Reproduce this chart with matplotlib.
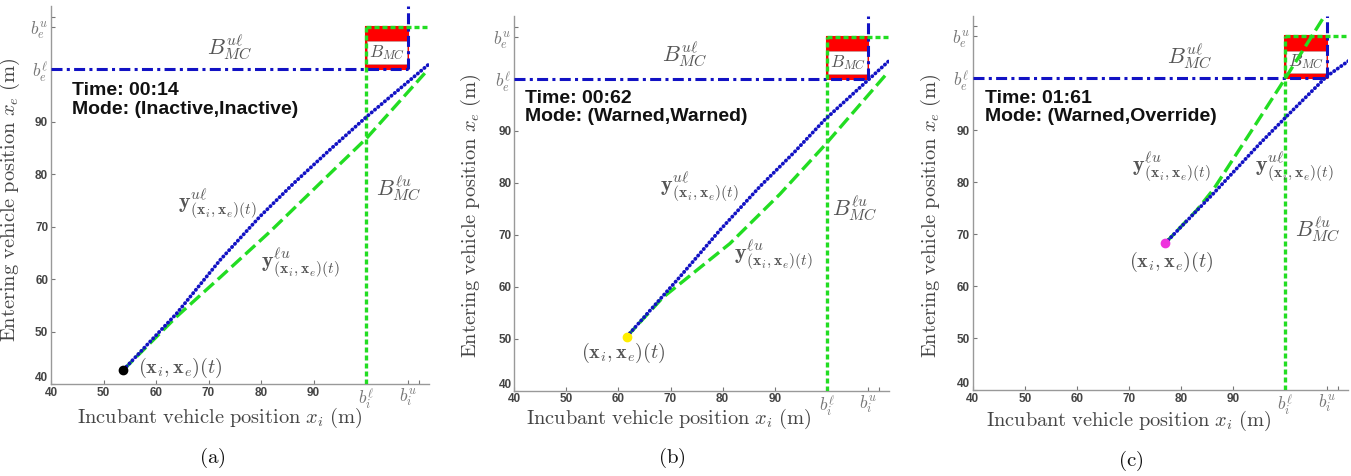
"""Three snapshots of the merge-conflict state space (incumbent vs entering vehicle)."""

import matplotlib.pyplot as plt
from matplotlib.patches import Rectangle

plt.rcParams["mathtext.fontset"] = "cm"
plt.rcParams["font.family"] = ["Liberation Sans", "DejaVu Sans"]

# bad set bounds (b^l, b^u) and axis range
B_I = (100, 108)
B_E = (100, 108)
LIM = (40, 112)

PANEL_TAGS = ["(a)", "(b)", "(c)"]
TIMES = ["00:14", "00:62", "01:61"]
MODES = ["(Inactive,Inactive)", "(Warned,Warned)", "(Warned,Override)"]

# current state (x_i, x_e)(t)
STATE_XI = [53.8, 61.6, 76.9]
STATE_XE = [42.7, 50.4, 68.2]

# predicted trajectory to the upper-left bound, y^{ul}
UL_X = [[53.8, 63.9, 72.2, 79.8, 86.2, 93.1, 100.1, 112.2],
        [61.6, 71.8, 79.5, 87.1, 93.6, 99.6, 111.8],
        [76.9, 86.2, 95.1, 100.2, 107.9, 112.4]]
UL_Y = [[42.7, 53.4, 63.6, 71.9, 78.2, 84.6, 90.9, 101.1],
        [50.4, 61.9, 70.9, 79.2, 85.7, 92.1, 103.3],
        [68.2, 77.8, 87.4, 92.6, 100.3, 103.5]]

# predicted trajectory to the lower-right bound, y^{lu}
LU_X = [[53.8, 63.9, 72.2, 81.7, 91.2, 100.1, 111.2],
        [61.6, 68.5, 81.4, 91.0, 99.6, 111.8],
        [76.9, 83.0, 86.2, 93.2, 100.2, 107.6]]
LU_Y = [[42.7, 52.8, 60.3, 69.0, 78.2, 86.8, 99.2],
        [50.4, 57.9, 68.3, 77.8, 87.2, 101.3],
        [68.2, 74.6, 78.6, 89.4, 100.3, 112.1]]

NUM_TICKS = [40, 50, 60, 70, 80, 90]

# layout (pixels, figure is 1351 x 476): left, top, width, height of each axes
FIG_W, FIG_H = 1351, 476
AX_PX = [(51, 6, 378, 378), (514.3, 16.3, 375, 374.4), (972.7, 15.6, 375.3, 374.4)]
XLABEL_PX = [(220, 418), (669, 419), (1129, 421)]
YLABEL_PX = [(10, 200), (471, 216), (931, 216)]
TAG_PX = [(212, 458), (672, 458), (1131, 461)]

# annotation anchors in data coordinates, per panel
INFO_XY = [(44.0, 94.1), (42.1, 94.45), (42.4, 94.3)]
BUL_XY = [(74.1, 104.2), (72.8, 104.6), (81.7, 104.1)]
BLU_XY = [(106.2, 77.3), (105.4, 75.1), (106.2, 70.8)]
YUL_XY = [(71.6, 74.4), (75.6, 79.2), (101.7, 83.0)]
YLU_XY = [(87.4, 63.0), (89.7, 66.1), (78.0, 83.0)]
STATE_LBL_XY = [(64.6, 43.0), (60.9, 47.2), (78.2, 64.7)]

BLUE = "#1212c4"
GREEN = "#22dd22"
GRAY = "#555555"
STATE_COLORS = ["black", "#ffee00", "#ee33dd"]


def draw_panel(ax, k):
    lo_i, hi_i = B_I
    lo_e, hi_e = B_E

    # B_MC red box with white name tag
    ax.add_patch(Rectangle((lo_i, lo_e), hi_i - lo_i, hi_e - lo_e,
                           facecolor="#ff0000", edgecolor="#ff0000", lw=1.5, zorder=1))
    ax.text((lo_i + hi_i) / 2, lo_e + 0.39 * (hi_e - lo_e), r"$B_{MC}$",
            ha="center", va="center", fontsize=12.5, color=GRAY, zorder=2,
            bbox=dict(boxstyle="square,pad=0.1", fc="white", ec="#cc9999", lw=0.6))

    # boundary of B^{ul}_MC (blue dash-dot) and B^{lu}_MC (green dotted)
    dashdot = dict(color=BLUE, lw=2.2, dashes=(3.6, 1.4, 1.0, 1.4), zorder=3)
    ax.plot([LIM[0], hi_i], [lo_e, lo_e], **dashdot)
    ax.plot([hi_i, hi_i], [lo_e, LIM[1]], **dashdot)
    dotted = dict(color=GREEN, lw=2.4, dashes=(1.5, 0.9), zorder=3)
    ax.plot([lo_i, lo_i], [LIM[0], hi_e], **dotted)
    ax.plot([lo_i, LIM[1]], [hi_e, hi_e], **dotted)

    # predicted trajectories
    ax.plot(LU_X[k], LU_Y[k], color=GREEN, lw=2.4, dashes=(4.0, 1.6), zorder=4)
    ax.plot(UL_X[k], UL_Y[k], color=BLUE, lw=2.7, dashes=(0.1, 1.05),
            dash_capstyle="round", zorder=5)
    ax.plot(STATE_XI[k], STATE_XE[k], "o", color=STATE_COLORS[k], ms=6, zorder=6)

    # labels inside the plot
    ax.text(*INFO_XY[k], f"Time: {TIMES[k]}\nMode: {MODES[k]}", ha="left", va="center",
            fontsize=14, fontweight="bold", color="#111111", linespacing=1.1)
    ax.text(*BUL_XY[k], r"$B^{u\ell}_{MC}$", ha="center", va="center", fontsize=16, color=GRAY)
    ax.text(*BLU_XY[k], r"$B^{\ell u}_{MC}$", ha="center", va="center", fontsize=16, color=GRAY)
    ax.text(*YUL_XY[k], r"$\mathbf{y}^{u\ell}_{(\mathbf{x}_i,\mathbf{x}_e)(t)}$",
            ha="center", va="center", fontsize=16, color=GRAY)
    ax.text(*YLU_XY[k], r"$\mathbf{y}^{\ell u}_{(\mathbf{x}_i,\mathbf{x}_e)(t)}$",
            ha="center", va="center", fontsize=16, color=GRAY)
    ax.text(*STATE_LBL_XY[k], r"$(\mathbf{x}_i,\mathbf{x}_e)(t)$",
            ha="center", va="center", fontsize=14.5, color=GRAY)

    # axes cosmetics, MATLAB-like
    ax.set_xlim(*LIM)
    ax.set_ylim(*LIM)
    ax.set_xticks(NUM_TICKS + [lo_i, hi_i, LIM[1] - 2])
    ax.set_yticks(NUM_TICKS + [lo_e, hi_e, LIM[1] - 2])
    ax.set_xticklabels([str(t) for t in NUM_TICKS] + [r"$b_i^{\ell}$", r"$b_i^{u}$", ""])
    ax.set_yticklabels([str(t) for t in NUM_TICKS] + [r"$b_e^{\ell}$", r"$b_e^{u}$", ""])
    for lab in ax.get_xticklabels() + ax.get_yticklabels():
        if lab.get_text().startswith("$"):
            lab.set_fontsize(12.5)
            lab.set_color("#777777")
        else:
            lab.set_fontsize(8.5)
            lab.set_fontweight("bold")
            lab.set_color("#444444")
    # the corner "40" on the y axis sits just above the x axis one
    ax.get_yticklabels()[0].set_verticalalignment("bottom")
    ax.tick_params(direction="in", length=3, width=0.8, color="#777777", pad=2)
    for side in ("top", "right"):
        ax.spines[side].set_visible(False)
    for side in ("left", "bottom"):
        ax.spines[side].set_color("#999999")
        ax.spines[side].set_linewidth(1.0)


def main():
    fig = plt.figure(figsize=(FIG_W / 100, FIG_H / 100), dpi=100)
    fig.patch.set_facecolor("white")
    for k in range(3):
        left, top, w, h = AX_PX[k]
        ax = fig.add_axes([left / FIG_W, 1 - (top + h) / FIG_H, w / FIG_W, h / FIG_H])
        ax.patch.set_alpha(0)
        draw_panel(ax, k)

        xl, yl = XLABEL_PX[k]
        fig.text(xl / FIG_W, 1 - yl / FIG_H,
                 r"$\mathrm{Incubant\ vehicle\ position}\ x_i\ \mathrm{(m)}$",
                 ha="center", va="center", fontsize=14.7, color="#444444")
        yx, yy = YLABEL_PX[k]
        fig.text(yx / FIG_W, 1 - yy / FIG_H,
                 r"$\mathrm{Entering\ vehicle\ position}\ x_e\ \mathrm{(m)}$",
                 ha="center", va="center", rotation=90, fontsize=14.7, color="#444444")
        tx, ty = TAG_PX[k]
        fig.text(tx / FIG_W, 1 - ty / FIG_H, r"$\mathrm{" + PANEL_TAGS[k] + "}$",
                 ha="center", va="center", fontsize=15, color="#111111")

    fig.savefig("out.png", dpi=100, facecolor="white")


if __name__ == "__main__":
    main()
